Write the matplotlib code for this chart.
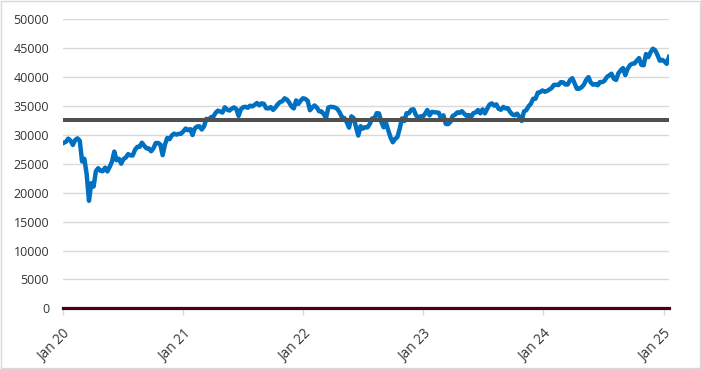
import numpy as np
import pandas as pd
import matplotlib
matplotlib.use('Agg')
import matplotlib.pyplot as plt
import matplotlib.dates as mdates
from matplotlib.patches import Rectangle

# weekly index level (Fridays, starting 3 Jan 2020)
start_date = '2020-01-03'
vals_2020 = [28630, 28820, 29350, 28990, 28260, 29100, 29400, 28990, 25410, 25860,
             23190, 18600, 21640, 21050, 23720, 24240, 23780, 23720, 24330, 23690,
             24470, 25380, 27110, 25610, 25870, 25020, 25830, 26080, 26670, 26470,
             26430, 27430, 27930, 27930, 28650, 28130, 27670, 27660, 27170, 27680,
             28590, 28610, 28340, 26500, 28320, 29480, 29260, 29910, 30220, 30050,
             30180, 30200, 30610]
vals_2021 = [31100, 30810, 31000, 29980, 31150, 31460, 31490, 30930, 31500, 32780,
             32630, 33070, 33150, 33800, 34200, 34040, 33870, 34780, 34380, 34210,
             34530, 34760, 34480, 33290, 34430, 34790, 34870, 34690, 35060, 34930,
             35210, 35520, 35120, 35460, 35370, 34610, 34580, 34800, 34330, 34750,
             35290, 35680, 35820, 36330, 36100, 35600, 34900, 34580, 35970, 35370,
             35950, 36340]
vals_2022 = [36230, 35910, 34270, 34730, 35090, 34740, 34080, 34060, 33610, 32940,
             34750, 34860, 34820, 34720, 34450, 33810, 32980, 32900, 32200, 31260,
             33210, 32900, 31390, 29890, 31500, 31100, 31340, 31290, 31900, 32850,
             32800, 33760, 33710, 32280, 31320, 32150, 30820, 29590, 28730, 29300,
             29630, 31080, 32860, 32400, 33750, 33750, 34350, 34430, 33480, 32920,
             33200, 33150]
vals_2023 = [33630, 34300, 33380, 33980, 33930, 33870, 33830, 32820, 33390, 31910,
             31860, 32240, 33270, 33490, 33890, 33810, 34100, 33670, 33300, 33430,
             33090, 33760, 33880, 34300, 33730, 34410, 33730, 34510, 35230, 35460,
             35070, 35280, 34500, 34350, 34840, 34580, 34620, 33960, 33510, 33410,
             33670, 33130, 32420, 34060, 34280, 34950, 35390, 36250, 36250, 37310,
             37390, 37690]
vals_2024 = [37470, 37590, 37860, 38110, 38650, 38670, 38630, 39130, 39090, 38720,
             38720, 39480, 39810, 38900, 37980, 37990, 38240, 38680, 39510, 40000,
             39070, 38690, 38800, 38590, 39150, 39120, 39380, 40000, 40290, 40590,
             39740, 39500, 40660, 41180, 41560, 40350, 41390, 42060, 42310, 42350,
             42860, 43280, 42110, 42050, 43990, 43450, 44300, 44910, 44640, 43830,
             42840, 42990]
vals_2025 = [42730, 42300, 43490]

avg_level = 32600
zero_level = 0

y_ticks = [0, 5000, 10000, 15000, 20000, 25000, 30000, 35000, 40000, 45000, 50000]
x_tick_years = [2020, 2021, 2022, 2023, 2024, 2025]
x_tick_labels = ['Jan 20', 'Jan 21', 'Jan 22', 'Jan 23', 'Jan 24', 'Jan 25']


def main():
    values = vals_2020 + vals_2021 + vals_2022 + vals_2023 + vals_2024 + vals_2025
    dates = pd.date_range(start_date, periods=len(values), freq='7D')

    plt.rcParams['font.family'] = ['Open Sans', 'DejaVu Sans']
    fig = plt.figure(figsize=(7.01, 3.69), dpi=100)
    fig.patches.append(Rectangle((0.001, 0.002), 0.997, 0.995, transform=fig.transFigure,
                                 fill=False, edgecolor='#d9d9d9', lw=1))
    ax = fig.add_axes([63 / 701, (369 - 308.3) / 369, (669 - 63) / 701, (308.3 - 19.3) / 369])

    x0 = pd.Timestamp('2020-01-01')
    ax.set_xlim(x0, dates[-1])
    ax.set_ylim(0, 50000)

    ax.plot(dates, values, color='#0070c0', lw=3.2, solid_joinstyle='round', zorder=3)
    ax.plot([x0, dates[-1]], [avg_level, avg_level], color='#505050', lw=2.9, zorder=4)
    ax.plot([x0, dates[-1]], [zero_level, zero_level], color='#4a0012', lw=2.3, zorder=4,
            clip_on=False)

    ax.set_yticks(y_ticks)
    ax.set_yticklabels([str(v) for v in y_ticks])
    ax.yaxis.grid(True, color='#d9d9d9', lw=1)
    ax.set_axisbelow(True)
    ax.tick_params(axis='y', length=0, pad=10, labelsize=9, labelcolor='#333333')

    ax.set_xticks([pd.Timestamp(f'{y}-01-01') for y in x_tick_years])
    ax.set_xticklabels(x_tick_labels, rotation=45, ha='right', rotation_mode='anchor')
    ax.tick_params(axis='x', length=5, color='#d9d9d9', width=1, pad=8, labelsize=9.8,
                   labelcolor='#333333')

    for s in ax.spines.values():
        s.set_visible(False)

    fig.savefig('out.png', dpi=100)


main()
